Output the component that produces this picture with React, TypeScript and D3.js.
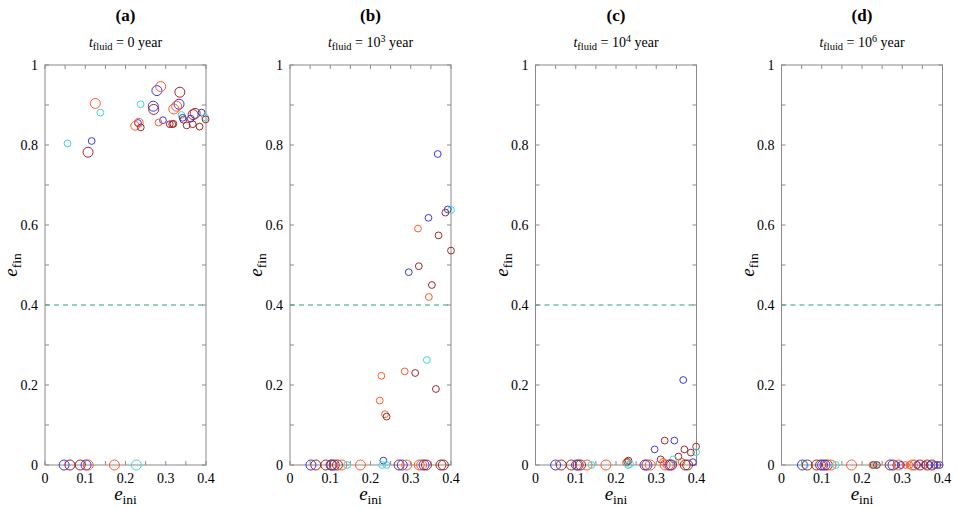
import React from "react";
import * as d3 from "d3";

// group: 0 blue, 1 cyan, 2 orange, 3 dark red ; size class: "L" large, "M" medium, "S" small
type Pt = [number, number, number, string];

const panelLabels = ["(a)", "(b)", "(c)", "(d)"];
const fluidExponents: (number | null)[] = [null, 3, 4, 6];
const xTicks = [0, 0.1, 0.2, 0.3, 0.4];
const yTicks = [0, 0.2, 0.4, 0.6, 0.8, 1];
const threshold = 0.4;

const panelA: Pt[] = [
  [0.278, 0.936, 0, "L"], [0.2875, 0.946, 2, "L"], [0.335, 0.932, 3, "L"],
  [0.2375, 0.902, 1, "S"], [0.269, 0.897, 0, "L"], [0.27, 0.889, 3, "L"],
  [0.333, 0.902, 0, "L"], [0.32, 0.89, 2, "L"], [0.327, 0.897, 2, "L"],
  [0.339, 0.875, 1, "S"], [0.342, 0.868, 0, "S"], [0.344, 0.863, 3, "S"],
  [0.373, 0.879, 3, "L"], [0.368, 0.876, 3, "L"], [0.389, 0.881, 0, "S"],
  [0.362, 0.866, 0, "S"], [0.398, 0.869, 1, "S"], [0.399, 0.864, 3, "S"],
  [0.352, 0.849, 3, "S"], [0.367, 0.852, 3, "S"], [0.384, 0.846, 3, "S"],
  [0.293, 0.862, 0, "S"], [0.282, 0.856, 2, "S"], [0.31, 0.852, 3, "S"],
  [0.316, 0.852, 3, "S"], [0.319, 0.853, 3, "S"], [0.231, 0.855, 0, "S"],
  [0.233, 0.856, 2, "M"], [0.224, 0.848, 2, "M"], [0.238, 0.844, 3, "S"],
  [0.125, 0.904, 2, "L"], [0.1375, 0.881, 1, "S"], [0.056, 0.804, 1, "S"],
  [0.116, 0.81, 0, "S"], [0.107, 0.782, 3, "L"],
  [0.0475, 0, 0, "L"], [0.062, 0, 3, "L"], [0.0875, 0, 3, "L"], [0.102, 0, 0, "L"],
  [0.1075, 0, 2, "L"], [0.1725, 0, 2, "L"], [0.227, 0, 1, "L"],
];

const panelB: Pt[] = [
  [0.367, 0.7775, 0, "S"], [0.392, 0.639, 0, "S"], [0.4, 0.6375, 1, "S"],
  [0.386, 0.631, 3, "S"], [0.344, 0.618, 0, "S"], [0.318, 0.591, 2, "S"],
  [0.369, 0.574, 3, "S"], [0.4, 0.536, 3, "S"], [0.295, 0.482, 0, "S"],
  [0.32, 0.497, 3, "S"], [0.3525, 0.45, 3, "S"], [0.345, 0.42, 2, "S"],
  [0.227, 0.223, 2, "S"], [0.285, 0.234, 2, "S"], [0.311, 0.23, 3, "S"],
  [0.34, 0.2625, 1, "S"], [0.3625, 0.19, 3, "S"], [0.223, 0.161, 2, "S"],
  [0.236, 0.127, 2, "S"], [0.24, 0.121, 3, "S"], [0.232, 0.011, 0, "S"],
  [0.052, 0, 0, "L"], [0.064, 0, 3, "L"], [0.089, 0, 3, "L"], [0.102, 0, 3, "L"],
  [0.104, 0, 0, "L"], [0.11, 0, 3, "L"], [0.118, 0, 3, "L"], [0.129, 0, 2, "L"],
  [0.142, 0, 1, "S"], [0.175, 0, 2, "L"], [0.229, 0, 1, "S"], [0.24, 0, 1, "S"],
  [0.271, 0, 3, "L"], [0.279, 0, 0, "L"], [0.29, 0, 2, "L"], [0.321, 0, 2, "L"],
  [0.327, 0, 2, "L"], [0.333, 0, 0, "L"], [0.339, 0, 3, "L"], [0.375, 0, 3, "L"],
  [0.381, 0, 3, "L"],
];

const panelC: Pt[] = [
  [0.367, 0.2125, 0, "S"], [0.296, 0.039, 0, "S"], [0.321, 0.061, 3, "S"],
  [0.345, 0.061, 0, "S"], [0.37, 0.039, 3, "S"], [0.399, 0.046, 3, "S"],
  [0.399, 0.032, 1, "S"], [0.386, 0.031, 3, "S"], [0.355, 0.021, 3, "S"],
  [0.311, 0.014, 3, "S"], [0.317, 0.008, 2, "S"], [0.342, 0.014, 1, "S"],
  [0.363, 0.008, 2, "S"], [0.391, 0.007, 0, "S"], [0.231, 0.011, 3, "S"],
  [0.225, 0.006, 2, "S"], [0.228, 0.008, 3, "S"], [0.235, 0.002, 1, "S"],
  [0.05, 0, 0, "L"], [0.064, 0, 3, "L"], [0.089, 0, 3, "L"], [0.102, 0, 3, "L"],
  [0.106, 0, 0, "L"], [0.112, 0, 3, "L"], [0.128, 0, 2, "L"], [0.139, 0, 1, "S"],
  [0.175, 0, 2, "L"], [0.23, 0, 1, "S"], [0.272, 0, 3, "L"], [0.277, 0, 0, "L"],
  [0.285, 0, 2, "L"], [0.322, 0, 2, "L"], [0.33, 0, 2, "L"], [0.334, 0, 0, "L"],
  [0.338, 0, 3, "L"], [0.372, 0, 3, "L"], [0.378, 0, 3, "L"],
];

const panelD: Pt[] = [
  [0.052, 0, 0, "L"], [0.058, 0, 1, "S"], [0.064, 0, 3, "L"], [0.087, 0, 3, "L"],
  [0.097, 0, 3, "L"], [0.102, 0, 0, "L"], [0.108, 0, 0, "L"], [0.114, 0, 3, "L"],
  [0.123, 0, 2, "L"], [0.135, 0, 1, "S"], [0.174, 0, 2, "L"], [0.226, 0, 2, "S"],
  [0.229, 0, 3, "S"], [0.233, 0, 1, "S"], [0.237, 0, 3, "S"], [0.27, 0, 3, "L"],
  [0.277, 0, 0, "L"], [0.285, 0, 3, "S"], [0.291, 0, 2, "L"], [0.297, 0, 0, "S"],
  [0.308, 0, 2, "S"], [0.318, 0, 2, "S"], [0.325, 0, 2, "L"], [0.331, 0, 2, "L"],
  [0.337, 0, 0, "S"], [0.344, 0, 3, "L"], [0.356, 0, 3, "S"], [0.362, 0, 3, "L"],
  [0.368, 0, 0, "S"], [0.374, 0, 3, "L"], [0.38, 0, 0, "S"], [0.387, 0, 3, "S"],
  [0.393, 0, 0, "S"],
];

const panelData = [panelA, panelB, panelC, panelD];

const W = 958;
const H = 509;
const TOP = 65;
const BOTTOM = 465;
const PW = 161;
const LEFTS = [45, 290, 535.5, 781.5];

const colorScale = d3
  .scaleOrdinal<number, string>()
  .domain([0, 1, 2, 3])
  .range(["#3838e6", "#3fd6d6", "#ff5a2a", "#a32626"]);
const sizeScale = d3
  .scaleOrdinal<string, number>()
  .domain(["L", "M", "S"])
  .range([5, 4.4, 3.4]);

const AXIS = "#8a8a8a";
const FONT = "Liberation Serif, DejaVu Serif, serif";

function Panel({ i }: { i: number }) {
  const left = LEFTS[i];
  const x = d3.scaleLinear().domain([0, 0.4]).range([left, left + PW]);
  const y = d3.scaleLinear().domain([0, 1]).range([BOTTOM, TOP]);
  const cx = left + PW / 2;
  const xMinor = d3.range(0, 0.4001, 0.05);
  const yMinor = d3.range(0, 1.0001, 0.1);
  const exp = fluidExponents[i];
  return (
    <g>
      <text x={cx} y={21} textAnchor="middle" style={{ fontFamily: FONT }} fontWeight="bold" fontSize={17}>
        {panelLabels[i]}
      </text>
      <text x={cx} y={47} textAnchor="middle" style={{ fontFamily: FONT }} fontSize={14}>
        <tspan fontStyle="italic">t</tspan>
        <tspan fontSize={10.5} dy={3}>fluid</tspan>
        <tspan dy={-3}>{exp === null ? " = 0 year" : " = 10"}</tspan>
        {exp !== null && (
          <>
            <tspan fontSize={10} dy={-5}>{exp}</tspan>
            <tspan dy={5}> year</tspan>
          </>
        )}
      </text>
      {/* frame */}
      <rect x={left} y={TOP} width={PW} height={BOTTOM - TOP} fill="none" stroke={AXIS} strokeWidth={1} />
      {xMinor.map((v, k) => (
        <g key={"xm" + k}>
          <line x1={x(v)} x2={x(v)} y1={BOTTOM} y2={BOTTOM - 4} stroke={AXIS} />
          <line x1={x(v)} x2={x(v)} y1={TOP} y2={TOP + 4} stroke={AXIS} />
        </g>
      ))}
      {yMinor.map((v, k) => (
        <g key={"ym" + k}>
          <line x1={left} x2={left + 4} y1={y(v)} y2={y(v)} stroke={AXIS} />
          <line x1={left + PW} x2={left + PW - 4} y1={y(v)} y2={y(v)} stroke={AXIS} />
        </g>
      ))}
      {xTicks.map((v) => (
        <text key={"xt" + v} x={x(v)} y={483} textAnchor="middle" style={{ fontFamily: FONT }} fontSize={14}>
          {v === 0 ? "0" : d3.format(".1f")(v)}
        </text>
      ))}
      {yTicks.map((v) => (
        <text key={"yt" + v} x={left - 7} y={y(v) + 4.5} textAnchor="end" style={{ fontFamily: FONT }} fontSize={14}>
          {v === 0 || v === 1 ? String(v) : d3.format(".1f")(v)}
        </text>
      ))}
      <line
        x1={left}
        x2={left + PW}
        y1={y(threshold)}
        y2={y(threshold)}
        stroke="#2e9e86"
        strokeWidth={1.2}
        strokeDasharray="5,4"
      />
      {panelData[i].map((d, k) => (
        <circle
          key={k}
          cx={x(d[0])}
          cy={y(d[1])}
          r={sizeScale(d[3])}
          fill="none"
          stroke={colorScale(d[2])}
          strokeWidth={1}
        />
      ))}
      <text x={cx} y={500} textAnchor="middle" style={{ fontFamily: FONT }} fontSize={19}>
        <tspan fontStyle="italic">e</tspan>
        <tspan fontSize={13.5} dy={4}>ini</tspan>
      </text>
      <text
        transform={`translate(${left - 28},${(TOP + BOTTOM) / 2}) rotate(-90)`}
        textAnchor="middle"
        style={{ fontFamily: FONT }}
        fontSize={19}
      >
        <tspan fontStyle="italic">e</tspan>
        <tspan fontSize={13.5} dy={4}>fin</tspan>
      </text>
    </g>
  );
}

export default function App() {
  return (
    <svg width={W} height={H} style={{ display: "block", position: "absolute", left: 0, top: 0, background: "#fff" }}>
      <rect width={W} height={H} fill="#fff" />
      {[0, 1, 2, 3].map((i) => (
        <Panel key={i} i={i} />
      ))}
    </svg>
  );
}
